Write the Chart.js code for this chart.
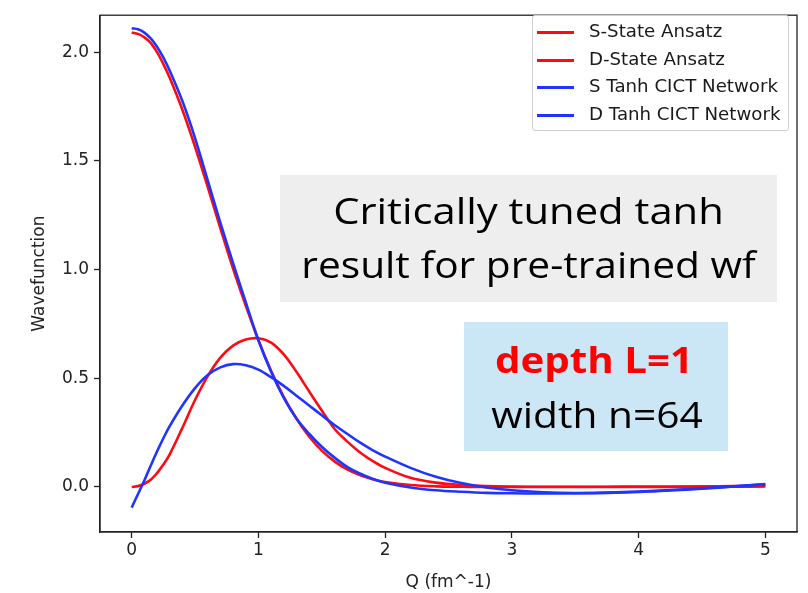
<!DOCTYPE html>
<html>
<head>
<meta charset="utf-8">
<script src="https://cdn.jsdelivr.net/npm/chart.js@4.4.1/dist/chart.umd.min.js"></script>
<style>
  html, body { margin: 0; padding: 0; background: #fff; }
  #wrap { position: relative; width: 808px; height: 593px; overflow: hidden; }
  #c { position: absolute; left: 0; top: 0; }
  .box { position: absolute; text-align: center; color: #000; }
  .line { position: absolute; left: 0; right: 0; white-space: nowrap; }
  #legend { position: absolute; left: 532px; top: 15px; width: 255px; height: 114px;
            border: 1px solid #d0d0d0; border-radius: 3px; background: rgba(255,255,255,0.85);
            font-family: "DejaVu Sans", sans-serif; font-size: 18.2px; color: #1a1a1a; }
  .lg { position: absolute; left: 0; height: 20px; }
  .lg .sw { position: absolute; left: 4px; top: 9px; width: 37px; height: 3px; }
  .lg .tx { position: absolute; left: 56px; top: -1px; white-space: nowrap; line-height: 20px; }
</style>
</head>
<body>
<div id="wrap">
  <canvas id="c" width="808" height="593"></canvas>
  <div class="box" id="note1" style="left:280px; top:175px; width:497px; height:127px; background:#eeeeee;
       font-family:'Open Sans', sans-serif; font-size:36px;">
    <div class="line" style="top:11px; transform:scaleX(1.16);">Critically tuned tanh</div>
    <div class="line" style="top:65px; transform:scaleX(1.13);">result for pre-trained wf</div>
  </div>
  <div class="box" id="note2" style="left:464px; top:322px; width:264px; height:129px; background:#cbe6f4;
       font-family:'Open Sans', sans-serif; font-size:36px;">
    <div class="line" style="top:13px; left:-4px; color:#ff0000; font-weight:bold; transform:scaleX(1.12);">depth L=1</div>
    <div class="line" style="top:68px; left:2px; transform:scaleX(1.13);">width n=64</div>
  </div>
  <div id="legend"></div>
</div>
<script>
// ---- data ----
const q = [0, 0.05, 0.1, 0.15, 0.2, 0.25, 0.3, 0.4, 0.5, 0.6, 0.7, 0.8, 0.9, 1.0, 1.1, 1.2, 1.3, 1.4, 1.5, 1.6, 1.7, 1.8, 1.9, 2.0,
           2.2, 2.4, 2.6, 2.8, 3.0, 3.25, 3.5, 3.75, 4.0, 4.25, 4.5, 4.75, 5.0];
const sAnsatz = [2.09, 2.084, 2.068, 2.043, 2.0, 1.945, 1.882, 1.735, 1.565, 1.38, 1.19, 1.005, 0.835, 0.675, 0.535, 0.415, 0.315, 0.232, 0.167, 0.118, 0.081, 0.055, 0.036, 0.023,
                 0.009, 0.003, 0.001, 0.0, 0.0, 0.0, 0.0, 0.0, 0.0, 0.0, 0.001, 0.001, 0.002];
const dAnsatz = [0.0, 0.004, 0.015, 0.033, 0.064, 0.103, 0.15, 0.272, 0.40, 0.51, 0.595, 0.65, 0.678, 0.684, 0.664, 0.61, 0.53, 0.44, 0.352, 0.268, 0.21, 0.16, 0.12, 0.088,
                 0.042, 0.02, 0.009, 0.004, 0.002, 0.001, 0.001, 0.001, 0.002, 0.002, 0.003, 0.004, 0.005];
const sNet = [2.11, 2.105, 2.09, 2.063, 2.025, 1.975, 1.915, 1.775, 1.605, 1.41, 1.215, 1.03, 0.85, 0.675, 0.53, 0.41, 0.315, 0.245, 0.185, 0.135, 0.093, 0.062, 0.038, 0.02,
              -0.002, -0.015, -0.022, -0.027, -0.029, -0.03, -0.029, -0.026, -0.021, -0.014, -0.006, 0.003, 0.012];
const dNet = [-0.095, -0.032, 0.03, 0.098, 0.163, 0.224, 0.28, 0.375, 0.455, 0.515, 0.55, 0.565, 0.56, 0.54, 0.505, 0.465, 0.42, 0.375, 0.33, 0.285, 0.245, 0.205, 0.17, 0.14,
              0.088, 0.047, 0.018, -0.002, -0.015, -0.024, -0.028, -0.027, -0.023, -0.016, -0.008, 0.002, 0.014];
const seriesLabels = ["S-State Ansatz", "D-State Ansatz", "S Tanh CICT Network", "D Tanh CICT Network"];
const xTicks = [0, 1, 2, 3, 4, 5];
const xTickLabels = ["0", "1", "2", "3", "4", "5"];
const yTicks = [0, 0.5, 1.0, 1.5, 2.0];
const yTickLabels = ["0.0", "0.5", "1.0", "1.5", "2.0"];

const RED = "#ff0a14";
const BLUE = "#1f35ff";
const pts = arr => q.map((x, i) => ({ x: x, y: arr[i] }));
function ds(label, arr, color, order) {
  return { label, data: pts(arr), borderColor: color, backgroundColor: color, borderWidth: 2.6,
           pointRadius: 0, fill: false, tension: 0.35, order };
}
const datasets = [
  ds(seriesLabels[0], sAnsatz, RED, 1),
  ds(seriesLabels[1], dAnsatz, RED, 1),
  ds(seriesLabels[2], sNet, BLUE, 0),
  ds(seriesLabels[3], dNet, BLUE, 0)
];

const tickFont = { family: "DejaVu Sans", size: 17 };
const frame = {
  id: "frame",
  afterDraw(chart) {
    const { ctx, chartArea: a } = chart;
    ctx.save();
    ctx.strokeStyle = "#222";
    ctx.lineWidth = 1.3;
    ctx.strokeRect(a.left, a.top, a.right - a.left, a.bottom - a.top);
    ctx.restore();
  }
};

const chart = new Chart(document.getElementById("c"), {
  type: "line",
  data: { datasets },
  plugins: [frame],
  options: {
    responsive: false,
    animation: false,
    events: [],
    layout: { padding: { top: 15, right: 11, left: 29, bottom: 0 } },
    plugins: { legend: { display: false }, tooltip: { enabled: false } },
    scales: {
      x: {
        type: "linear", min: -0.25, max: 5.25,
        afterBuildTicks: s => { s.ticks = xTicks.map(v => ({ value: v })); },
        afterFit: s => { s.height = 61; },
        ticks: { font: tickFont, color: "#222", padding: 2, maxRotation: 0,
                 callback: (v) => xTickLabels[xTicks.indexOf(v)] },
        grid: { display: true, drawOnChartArea: false, drawTicks: true, tickLength: 6, tickWidth: 1.3, tickColor: "#222" },
        border: { display: true, color: "#222", width: 1.3 },
        title: { display: true, text: "Q (fm^-1)", font: tickFont, color: "#222", padding: { top: 1, bottom: 0 } }
      },
      y: {
        type: "linear", min: -0.207, max: 2.17,
        afterBuildTicks: s => { s.ticks = yTicks.map(v => ({ value: v })); },
        afterFit: s => { s.width = 71; },
        ticks: { font: tickFont, color: "#222", padding: 5,
                 callback: (v) => yTickLabels[yTicks.indexOf(v)] },
        grid: { display: true, drawOnChartArea: false, drawTicks: true, tickLength: 6, tickWidth: 1.3, tickColor: "#222" },
        border: { display: true, color: "#222", width: 1.3 },
        title: { display: true, text: "Wavefunction", font: tickFont, color: "#222", padding: { top: 0, bottom: 0 } }
      }
    }
  }
});

// legend built from the chart's datasets
const lg = document.getElementById("legend");
chart.data.datasets.forEach((d, i) => {
  const row = document.createElement("div");
  row.className = "lg";
  row.style.top = Math.round(6 + i * 27.6) + "px";
  row.innerHTML = '<div class="sw" style="background:' + d.borderColor + '"></div><div class="tx"></div>';
  row.querySelector(".tx").textContent = d.label;
  lg.appendChild(row);
});
</script>
</body>
</html>
